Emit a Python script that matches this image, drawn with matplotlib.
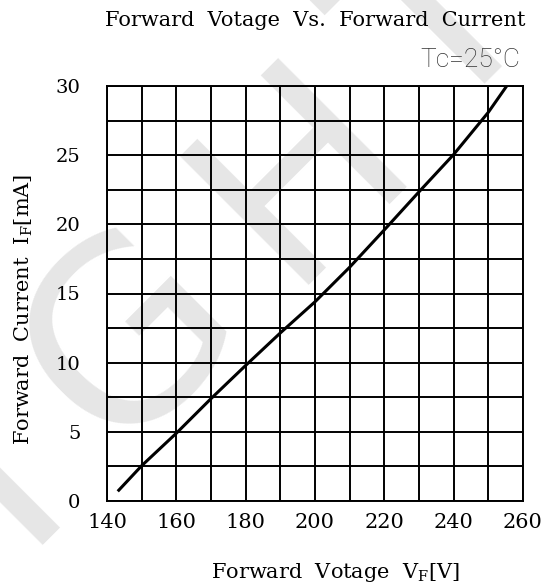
import matplotlib.pyplot as plt
import numpy as np

# curve (Tc = 25 C)
vf = [143.1, 150.0, 160.0, 170.0, 180.0, 190.0, 200.0, 210.0, 220.0, 230.0, 240.0, 250.0, 255.3]
if_ma = [0.7, 2.55, 4.9, 7.4, 9.8, 12.15, 14.4, 16.9, 19.6, 22.35, 25.05, 28.1, 30.0]

x_ticks = [140, 160, 180, 200, 220, 240, 260]
x_grid = [150, 170, 190, 210, 230, 250]
y_ticks = [0, 5, 10, 15, 20, 25, 30]
y_grid = [2.5, 7.5, 12.5, 17.5, 22.5, 27.5]

W, H = 553, 582
plt.rcParams['mathtext.fontset'] = 'dejavuserif'
serif = 'DejaVu Serif'

fig = plt.figure(figsize=(W / 100, H / 100), dpi=100)
fig.patch.set_facecolor('white')


def px(x, y):
    # pixel position (from top-left) to figure fraction
    return x / W, 1 - y / H


# faint watermark letters behind the grid (baseline-centre of each letter)
for ch, (bx, by) in zip('IGHT', [(45, 519), (181, 387), (351, 219), (493, 75)]):
    fx, fy = px(bx, by)
    fig.text(fx, fy, ch, fontsize=180, color='#e6e6e6', rotation=45,
             ha='center', va='baseline', rotation_mode='anchor',
             family='DejaVu Sans', zorder=-5)

ax = fig.add_axes([107 / W, 1 - 501 / H, 416 / W, 415 / H])
ax.patch.set_alpha(0)

ax.plot(vf, if_ma, color='black', linewidth=2.2, solid_capstyle='butt',
        solid_joinstyle='round', zorder=3)

ax.set_xlim(140, 260)
ax.set_ylim(0, 30)
ax.set_xticks(x_ticks)
ax.set_xticks(x_grid, minor=True)
ax.set_yticks(y_ticks)
ax.set_yticks(y_grid, minor=True)
ax.grid(True, which='both', color='black', linewidth=1.4)
ax.tick_params(which='both', length=0)
ax.tick_params(axis='x', pad=9, labelsize=15)
ax.tick_params(axis='y', pad=19, labelsize=14)
for lab in ax.get_xticklabels() + ax.get_yticklabels():
    lab.set_family(serif)
for s in ax.spines.values():
    s.set_linewidth(1.4)
    s.set_color('black')

fig.text(*px(315, 20), 'Forward  Votage  Vs.  Forward  Current', family=serif,
         fontsize=15, ha='center', va='center')
fig.text(*px(470, 60), 'Tc=25°C', family='Roboto', fontweight='light',
         fontsize=19, ha='center', va='center', color='#333333')
fig.text(*px(335, 572), r'Forward  Votage  V$_\mathregular{F}$[V]', family=serif,
         fontsize=15, ha='center', va='center')
fig.text(*px(24, 309), r'Forward  Current  I$_\mathregular{F}$[mA]', family=serif,
         fontsize=15, ha='center', va='center', rotation=90)

fig.savefig('out.png', dpi=100, facecolor='white')
